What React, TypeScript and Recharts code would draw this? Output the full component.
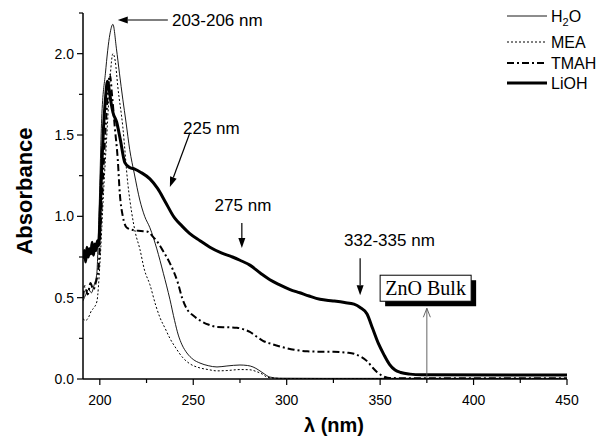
import {
  LineChart,
  Line,
  XAxis,
  YAxis,
  Legend,
  ReferenceLine,
  ReferenceDot,
  ReferenceArea,
} from "recharts";

// wavelength (nm) / absorbance readings per solvent
const h2oNm = [191, 192.5, 194, 195.5, 197, 198.4, 199.5, 201, 203, 205.4, 207, 208.9, 210.5, 212.3, 214, 216, 218.5, 221.4, 224, 226.8, 230.5, 234, 237.5, 240, 242, 244, 246.6, 250, 253.6, 258, 262.7, 268, 275, 279, 282, 285, 287.3, 291, 296, 320, 450];
const h2oAbs = [0.48, 0.52, 0.55, 0.53, 0.58, 0.65, 1.0, 1.6, 1.88, 2.12, 2.18, 2.03, 1.88, 1.72, 1.58, 1.41, 1.26, 1.1, 1.0, 0.93, 0.8, 0.65, 0.49, 0.36, 0.27, 0.21, 0.16, 0.12, 0.098, 0.082, 0.074, 0.08, 0.086, 0.083, 0.074, 0.055, 0.037, 0.012, 0.005, 0.004, 0.004];

const meaNm = [191, 192.5, 194, 195.5, 197, 198.5, 200, 202, 204, 205.5, 207, 208.3, 209.6, 212.3, 215, 217.1, 219, 221.4, 223.9, 226.8, 230, 232.1, 235, 237.5, 240.7, 244.5, 248, 253.6, 258, 262.7, 268, 275, 280, 284, 287, 289.4, 293, 300, 450];
const meaAbs = [0.37, 0.36, 0.38, 0.42, 0.44, 0.48, 0.7, 1.15, 1.55, 1.85, 2.0, 1.95, 1.8, 1.55, 1.2, 1.02, 0.9, 0.8, 0.67, 0.58, 0.45, 0.38, 0.31, 0.25, 0.19, 0.13, 0.095, 0.068, 0.058, 0.05, 0.052, 0.058, 0.057, 0.045, 0.03, 0.012, 0.005, 0.003, 0.003];

const tmahNm = [191, 192, 193.5, 195, 196.5, 198, 199.3, 200.5, 202, 203.5, 205.4, 206.5, 208, 209.6, 210.7, 212.3, 214.5, 218, 222, 225.7, 228, 231, 233.7, 238, 241.8, 244, 246.6, 250, 253.6, 258, 262.7, 268, 273.4, 277, 280.3, 284, 287.3, 292, 298, 304, 311, 318, 325, 332, 336, 340, 343, 346, 348.4, 351, 354, 360, 450];
const tmahAbs = [0.5, 0.57, 0.52, 0.59, 0.55, 0.6, 0.68, 0.95, 1.3, 1.62, 1.87, 1.75, 1.55, 1.35, 1.14, 1.0, 0.93, 0.915, 0.91, 0.905, 0.88, 0.84, 0.79, 0.7, 0.59, 0.5, 0.43, 0.39, 0.36, 0.335, 0.32, 0.318, 0.315, 0.305, 0.29, 0.26, 0.235, 0.215, 0.195, 0.18, 0.17, 0.168, 0.168, 0.162, 0.155, 0.135, 0.11, 0.07, 0.042, 0.02, 0.008, 0.005, 0.005];

const liohNm = [191, 191.7, 192.4, 193.1, 193.8, 194.5, 195.2, 195.9, 196.6, 197.3, 198, 198.7, 199.4, 200, 201, 202, 203, 204.1, 205, 206, 207, 209, 211, 213.4, 216, 218.7, 222, 226.8, 231, 235, 240, 244, 248, 253.6, 258.9, 265, 271, 275, 280.3, 286, 291, 296, 301.8, 307, 312, 317.8, 324.8, 331, 336, 339.3, 343, 346, 349, 352, 355, 358, 361, 366, 372, 450];
const liohAbs = [0.74, 0.79, 0.72, 0.81, 0.75, 0.8, 0.77, 0.84, 0.76, 0.83, 0.79, 0.85, 0.82, 0.95, 1.3, 1.55, 1.72, 1.83, 1.78, 1.7, 1.64, 1.58, 1.47, 1.33, 1.3, 1.29, 1.27, 1.23, 1.17, 1.09, 0.99, 0.94, 0.895, 0.85, 0.81, 0.775, 0.75, 0.73, 0.7, 0.65, 0.61, 0.58, 0.55, 0.53, 0.51, 0.49, 0.48, 0.47, 0.46, 0.44, 0.4, 0.31, 0.22, 0.15, 0.09, 0.055, 0.04, 0.03, 0.026, 0.024];

const xTicks = [200, 225, 250, 275, 300, 325, 350, 375, 400, 425, 450];
const yTicks = [0, 0.25, 0.5, 0.75, 1.0, 1.25, 1.5, 1.75, 2.0, 2.25];

const zip = (xs: number[], ys: number[]) => xs.map((x, i) => ({ x, y: ys[i] }));

const FONT = "'Liberation Sans', Arial, sans-serif";

function XTick({ x, y, payload }: any) {
  const v = payload.value;
  const major = v % 50 === 0;
  return (
    <g>
      <line x1={x} y1={y} x2={x} y2={y + (major ? 6 : 4)} stroke="#000" strokeWidth={1.2} />
      {major && (
        <text x={x} y={y + 26} textAnchor="middle" fontSize={14} fontFamily={FONT} fill="#000">
          {v}
        </text>
      )}
    </g>
  );
}

function YTick({ x, y, payload }: any) {
  const v = payload.value;
  const major = Math.abs(v * 2 - Math.round(v * 2)) < 1e-6;
  return (
    <g>
      <line x1={x - (major ? 6 : 4)} y1={y} x2={x} y2={y} stroke="#000" strokeWidth={1.2} />
      {major && (
        <text x={x - 9} y={y + 5} textAnchor="end" fontSize={14} fontFamily={FONT} fill="#000">
          {v.toFixed(1)}
        </text>
      )}
    </g>
  );
}

const arrow = (p: any) => {
  const { x1, y1, x2, y2 } = p;
  const a = Math.atan2(y2 - y1, x2 - x1);
  const L = 10, W = 3.5;
  const bx = x2 - L * Math.cos(a), by = y2 - L * Math.sin(a);
  const px = -Math.sin(a) * W, py = Math.cos(a) * W;
  return (
    <g>
      <line x1={x1} y1={y1} x2={bx} y2={by} stroke="#000" strokeWidth={1.2} />
      <polygon points={`${x2},${y2} ${bx + px},${by + py} ${bx - px},${by - py}`} fill="#000" />
    </g>
  );
};

const openArrow = (p: any) => {
  const { x1, y1, x2, y2 } = p;
  return (
    <g stroke="#555" strokeWidth={0.9} fill="none">
      <line x1={x1} y1={y1} x2={x2} y2={y2} />
      <polyline points={`${x2 - 3.5},${y2 + 9} ${x2},${y2} ${x2 + 3.5},${y2 + 9}`} />
    </g>
  );
};

const note = (text: string, anchor: "start" | "middle") => (p: any) => (
  <text x={p.cx} y={p.cy} dy={6} textAnchor={anchor} fontSize={17} fontFamily={FONT} fill="#000">
    {text}
  </text>
);

const bulkBox = (p: any) => {
  const { x, y, width, height } = p;
  return (
    <g>
      <rect x={x + 5} y={y + 5} width={width} height={height} fill="#000" />
      <rect x={x} y={y} width={width} height={height} fill="#fff" stroke="#000" strokeWidth={1} />
      <text x={x + width / 2} y={y + height / 2 + 7} textAnchor="middle" fontSize={20} fontFamily="'Liberation Serif', 'Times New Roman', serif" fill="#000">
        ZnO Bulk
      </text>
    </g>
  );
};

const legendItems = [
  { name: "H2O", y: 16, dash: undefined, w: 0.9 },
  { name: "MEA", y: 42, dash: "2 2", w: 1 },
  { name: "TMAH", y: 63, dash: "7 3 2 3", w: 2 },
  { name: "LiOH", y: 83, dash: undefined, w: 3 },
];

const renderLegend = () => (
  <svg width={612} height={100} style={{ display: "block" }}>
    {legendItems.map((it) => (
      <g key={it.name}>
        <line x1={507} y1={it.y} x2={547} y2={it.y} stroke="#000" strokeWidth={it.w} strokeDasharray={it.dash} />
        <text x={551} y={it.y + 6} fontSize={16} fontFamily={FONT} fill="#000">
          {it.name === "H2O" ? (
            <>
              <tspan>H</tspan>
              <tspan dy={4} fontSize={11}>2</tspan>
              <tspan dy={-4}>O</tspan>
            </>
          ) : (
            it.name
          )}
        </text>
      </g>
    ))}
  </svg>
);

export default function App() {
  return (
    <div style={{ position: "absolute", left: 0, top: 0, width: 612, height: 439, background: "#fff" }}>
      <LineChart width={612} height={439} margin={{ top: 13, right: 45, bottom: 0, left: 0 }}>
        <XAxis
          dataKey="x"
          type="number"
          domain={[191, 450]}
          allowDataOverflow
          ticks={xTicks}
          interval={0}
          tickSize={0}
          tickMargin={0}
          tickLine={false}
          tick={XTick}
          height={60}
          axisLine={{ stroke: "#000", strokeWidth: 1.5 }}
        />
        <YAxis
          dataKey="y"
          type="number"
          domain={[0, 2.25]}
          allowDataOverflow
          ticks={yTicks}
          interval={0}
          tickSize={0}
          tickMargin={0}
          tickLine={false}
          tick={YTick}
          width={83}
          axisLine={{ stroke: "#000", strokeWidth: 1.5 }}
        />
        <Legend
          layout="horizontal"
          verticalAlign="middle"
          align="center"
          content={renderLegend}
          wrapperStyle={{ left: 0, top: 0, width: 612, height: 100 }}
        />
        <Line data={zip(h2oNm, h2oAbs)} dataKey="y" name="H2O" type="monotone" stroke="#000" strokeWidth={0.9} dot={false} isAnimationActive={false} />
        <Line data={zip(meaNm, meaAbs)} dataKey="y" name="MEA" type="monotone" stroke="#000" strokeWidth={1} strokeDasharray="2 2" dot={false} isAnimationActive={false} />
        <Line data={zip(tmahNm, tmahAbs)} dataKey="y" name="TMAH" type="monotone" stroke="#000" strokeWidth={2} strokeDasharray="7 3 2 3" dot={false} isAnimationActive={false} />
        <Line data={zip(liohNm, liohAbs)} dataKey="y" name="LiOH" type="monotone" stroke="#000" strokeWidth={3} dot={false} isAnimationActive={false} />

        <ReferenceLine segment={[{ x: 236.4, y: 2.207 }, { x: 209.6, y: 2.207 }]} shape={arrow} />
        <ReferenceDot x={238.6} y={2.207} r={0} shape={note("203-206 nm", "start")} />
        <ReferenceLine segment={[{ x: 248.2, y: 1.514 }, { x: 237.5, y: 1.181 }]} shape={arrow} />
        <ReferenceDot x={244.5} y={1.545} r={0} shape={note("225 nm", "start")} />
        <ReferenceLine segment={[{ x: 276, y: 0.959 }, { x: 276, y: 0.805 }]} shape={arrow} />
        <ReferenceDot x={276.6} y={1.07} r={0} shape={note("275 nm", "middle")} />
        <ReferenceLine segment={[{ x: 339.3, y: 0.743 }, { x: 339.3, y: 0.515 }]} shape={arrow} />
        <ReferenceDot x={355} y={0.854} r={0} shape={note("332-335 nm", "middle")} />
        <ReferenceLine segment={[{ x: 375, y: 0 }, { x: 375, y: 0.435 }]} shape={openArrow} />
        <ReferenceArea x1={350} x2={398.7} y1={0.478} y2={0.638} shape={bulkBox} />
      </LineChart>
      <svg width={612} height={439} style={{ position: "absolute", left: 0, top: 0, pointerEvents: "none" }}>
        <text transform="translate(32,191) rotate(-90)" textAnchor="middle" fontSize={22} fontWeight="bold" fontFamily={FONT} fill="#000">
          Absorbance
        </text>
        <text x={334} y={432} textAnchor="middle" fontSize={20} fontWeight="bold" fontFamily={FONT} fill="#000">
          λ (nm)
        </text>
      </svg>
    </div>
  );
}
